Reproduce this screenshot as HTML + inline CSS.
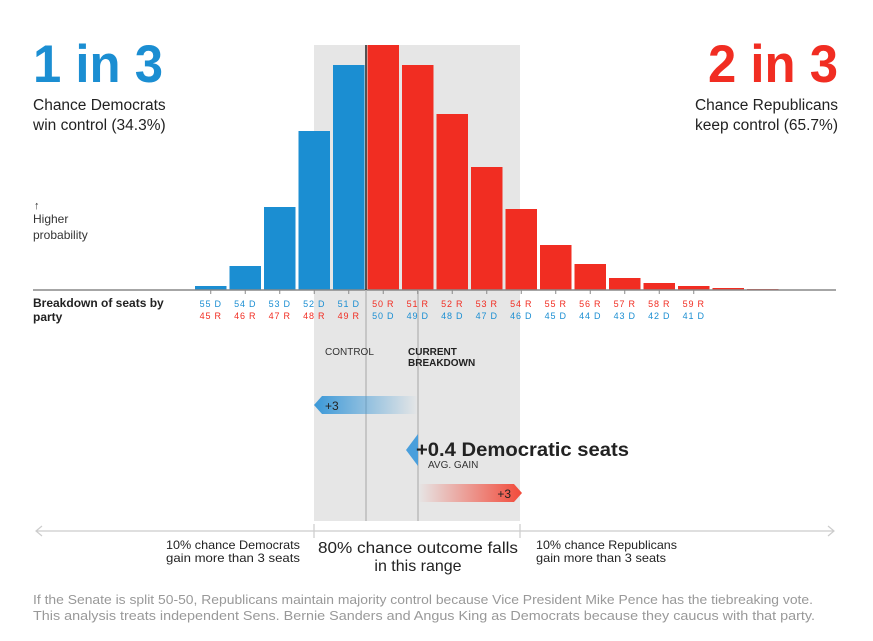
<!DOCTYPE html>
<html><head><meta charset="utf-8"><style>
html,body{margin:0;padding:0;background:#fff;}
svg{display:block;font-family:"Liberation Sans",sans-serif;}
</style></head><body>
<svg id="chart" width="873" height="641" viewBox="0 0 873 641">
<defs>
<linearGradient id="gb" x1="0" x2="1"><stop offset="0" stop-color="#3a98d8"/><stop offset="1" stop-color="#3a98d8" stop-opacity="0"/></linearGradient>
<linearGradient id="gr" x1="0" x2="1"><stop offset="0" stop-color="#f24a3a" stop-opacity="0"/><stop offset="1" stop-color="#f24a3a"/></linearGradient>
</defs>
<rect x="314" y="45" width="206" height="476" fill="#e6e6e6"/>
<g id="bars"></g>
<line x1="33" y1="290" x2="836" y2="290" stroke="#888" stroke-width="1.5"/>
<line x1="366" y1="290" x2="366" y2="521" stroke="#bbb" stroke-width="1.5"/>
<line x1="366" y1="45" x2="366" y2="290" stroke="#222" stroke-width="1.5"/>
<line x1="418" y1="290" x2="418" y2="521" stroke="#bbb" stroke-width="1.5"/>
<g id="ticks"></g>

<text x="33" y="82" font-size="53" font-weight="bold" fill="#1b8ed2" textLength="130" lengthAdjust="spacingAndGlyphs">1 in 3</text>
<text x="33" y="110" font-size="15.5" fill="#222">Chance Democrats</text>
<text x="33" y="130" font-size="15.5" fill="#222">win control (34.3%)</text>
<text x="838" y="82" font-size="53" font-weight="bold" fill="#f12d22" text-anchor="end" textLength="130" lengthAdjust="spacingAndGlyphs">2 in 3</text>
<text x="838" y="110" font-size="15.5" fill="#222" text-anchor="end">Chance Republicans</text>
<text x="838" y="130" font-size="15.5" fill="#222" text-anchor="end">keep control (65.7%)</text>

<text x="34" y="209" font-size="11" fill="#333">↑</text>
<text x="33" y="223" font-size="12" fill="#333">Higher</text>
<text x="33" y="239" font-size="12" fill="#333">probability</text>
<text x="33" y="307" font-size="12" font-weight="bold" fill="#222">Breakdown of seats by</text>
<text x="33" y="321" font-size="12" font-weight="bold" fill="#222">party</text>

<text x="325" y="355" font-size="10" fill="#333">CONTROL</text>
<text x="408" y="355" font-size="10" font-weight="bold" fill="#222">CURRENT</text>
<text x="408" y="366" font-size="10" font-weight="bold" fill="#222">BREAKDOWN</text>

<polygon points="322,396 418,396 418,414 322,414 314,405" fill="url(#gb)"/>
<text x="325" y="410" font-size="12" fill="#222">+3</text>
<polygon points="418,434 418,466 406,450" fill="#4a9fdc"/>
<text x="416" y="456" font-size="19.5" font-weight="bold" fill="#222" textLength="213" lengthAdjust="spacingAndGlyphs">+0.4 Democratic seats</text>
<text x="428" y="468" font-size="10" fill="#333">AVG. GAIN</text>
<polygon points="418,484 514,484 522,493 514,502 418,502" fill="url(#gr)"/>
<text x="511" y="498" font-size="12" fill="#222" text-anchor="end">+3</text>

<line x1="36" y1="531" x2="834" y2="531" stroke="#ccc" stroke-width="1.2"/>
<polyline points="42,526 36,531 42,536" fill="none" stroke="#ccc" stroke-width="1.2"/>
<polyline points="828,526 834,531 828,536" fill="none" stroke="#ccc" stroke-width="1.2"/>
<line x1="314" y1="524" x2="314" y2="538" stroke="#ccc" stroke-width="1.2"/>
<line x1="520" y1="524" x2="520" y2="538" stroke="#ccc" stroke-width="1.2"/>
<text x="300" y="549" font-size="12" fill="#222" text-anchor="end" textLength="134" lengthAdjust="spacingAndGlyphs">10% chance Democrats</text>
<text x="300" y="562" font-size="12" fill="#222" text-anchor="end" textLength="134" lengthAdjust="spacingAndGlyphs">gain more than 3 seats</text>
<text x="418" y="553" font-size="16" fill="#222" text-anchor="middle" textLength="200" lengthAdjust="spacingAndGlyphs">80% chance outcome falls</text>
<text x="418" y="571" font-size="16" fill="#222" text-anchor="middle">in this range</text>
<text x="536" y="549" font-size="12" fill="#222" textLength="141" lengthAdjust="spacingAndGlyphs">10% chance Republicans</text>
<text x="536" y="562" font-size="12" fill="#222" textLength="130" lengthAdjust="spacingAndGlyphs">gain more than 3 seats</text>
<text x="33" y="604" font-size="12.5" fill="#999" textLength="780" lengthAdjust="spacingAndGlyphs">If the Senate is split 50-50, Republicans maintain majority control because Vice President Mike Pence has the tiebreaking vote.</text>
<text x="33" y="620" font-size="12.5" fill="#999" textLength="782" lengthAdjust="spacingAndGlyphs">This analysis treats independent Sens. Bernie Sanders and Angus King as Democrats because they caucus with that party.</text>
</svg>
<script>
const demSeats = [55,54,53,52,51,50,49,48,47,46,45,44,43,42,41,40,39];
const probabilities = [4,24,83,159,225,245,225,176,123,81,45,26,12,7,4,2,1];
const labeledCount = 15;
const NS = "http://www.w3.org/2000/svg";
const x0 = 195, pitch = 34.5, bw = 31.5, base = 290, yScale = 1;
const xPos = i => x0 + i * pitch;
const yPos = v => base - v * yScale;
const barsG = document.getElementById('bars');
const ticksG = document.getElementById('ticks');
probabilities.forEach((v, i) => {
  const r = document.createElementNS(NS, 'rect');
  r.setAttribute('x', xPos(i));
  r.setAttribute('y', yPos(v));
  r.setAttribute('width', bw);
  r.setAttribute('height', base - yPos(v));
  const dem = demSeats[i] > 50;
  r.setAttribute('fill', dem ? '#1b8ed2' : '#f12d22');
  
  
  barsG.appendChild(r);
  if (i < labeledCount) {
    const cx = xPos(i) + bw / 2;
    const t = document.createElementNS(NS, 'line');
    t.setAttribute('x1', cx); t.setAttribute('x2', cx);
    t.setAttribute('y1', base); t.setAttribute('y2', base + 4);
    t.setAttribute('stroke', '#888');
    
    
    ticksG.appendChild(t);
    const d = demSeats[i], rr = 100 - d;
    const lines = dem ? [[d + ' D', '#1b8ed2'], [rr + ' R', '#f12d22']] : [[rr + ' R', '#f12d22'], [d + ' D', '#1b8ed2']];
    lines.forEach((l, k) => {
      const tx = document.createElementNS(NS, 'text');
      tx.setAttribute('x', cx);
      tx.setAttribute('y', base + 17 + k * 12);
      tx.setAttribute('text-anchor', 'middle');
      tx.setAttribute('font-size', '9');
      tx.setAttribute('letter-spacing', '0.8');
      tx.setAttribute('fill', l[1]);
      tx.textContent = l[0];
      
      
      ticksG.appendChild(tx);
    });
  }
});
</script>
</body></html>
